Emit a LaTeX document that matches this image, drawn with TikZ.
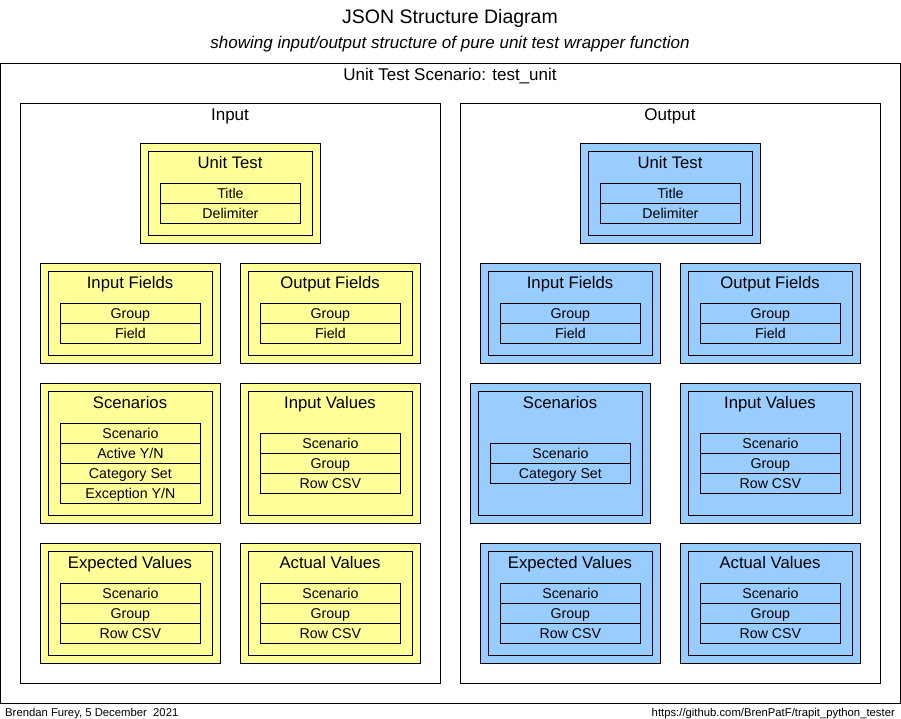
\documentclass[tikz,border=0pt]{standalone}
\usepackage{fontspec}
\setmainfont{Liberation Sans}
\definecolor{yelfill}{HTML}{FFFF99}
\definecolor{blufill}{HTML}{99CCFF}
\begin{document}
\begin{tikzpicture}[x=1pt,y=-1pt,
  frame/.style={draw, line width=1pt, rectangle, inner sep=0pt, anchor=north west},
  yel/.style={frame, fill=yelfill},
  blu/.style={frame, fill=blufill},
  ent/.style={frame, minimum width=180pt},
  inn/.style={frame, minimum width=164pt},
  txt/.style={text height=1.06em, text depth=0pt},
  row/.style={frame, line width=0.8pt, minimum width=140pt, minimum height=20pt, text height=0.93em, text depth=0pt, font=\fontsize{14.2}{15}\selectfont},
  ttl/.style={inner sep=0pt, txt, font=\fontsize{16.7}{18}\selectfont},
  lbl/.style={inner sep=0pt, txt, font=\fontsize{17}{18}\selectfont}]
\useasboundingbox (0,0) rectangle (901,719);
% titles
\node[inner sep=0pt, text height=1.02em, text depth=0pt, font=\fontsize{19.5}{21}\selectfont] (title) at (450,18) {JSON Structure Diagram};
\node[inner sep=0pt, txt, font=\fontsize{17}{18}\selectfont\itshape] (subtitle) at (450,43) {showing input/output structure of pure unit test wrapper function};
% containers
\node[frame, minimum width=900pt, minimum height=640pt] (scen) at (0,63) {};
\node[lbl] (scenl) at (450,75) {Unit Test Scenario: test\_unit};
\node[frame, minimum width=420pt, minimum height=580pt] (inp) at (20,103) {};
\node[lbl] (inpl) at (230,115) {Input};
\node[frame, minimum width=420pt, minimum height=580pt] (outp) at (460,103) {};
\node[lbl] (outpl) at (670,115) {Output};
% ===== INPUT side =====
% Unit Test
\node[yel, ent, minimum height=100pt] (iut) at (140,143) {};
\node[yel, inn, minimum height=84pt] (iuti) at (148,151) {};
\node[ttl] (iutt) at (230,163) {Unit Test};
\node[row] (iut1) at (160,183) {Title};
\node[row] (iut2) at (160,203) {Delimiter};
% Input Fields
\node[yel, ent, minimum height=100pt] (iif) at (40,263) {};
\node[yel, inn, minimum height=84pt] (iifi) at (48,271) {};
\node[ttl] (iift) at (130,283) {Input Fields};
\node[row] (iif1) at (60,303) {Group};
\node[row] (iif2) at (60,323) {Field};
% Output Fields
\node[yel, ent, minimum height=100pt] (iof) at (240,263) {};
\node[yel, inn, minimum height=84pt] (iofi) at (248,271) {};
\node[ttl] (ioft) at (330,283) {Output Fields};
\node[row] (iof1) at (260,303) {Group};
\node[row] (iof2) at (260,323) {Field};
% Scenarios
\node[yel, ent, minimum height=140pt] (isc) at (40,383) {};
\node[yel, inn, minimum height=124pt] (isci) at (48,391) {};
\node[ttl] (isct) at (130,403) {Scenarios};
\node[row] (isc1) at (60,423) {Scenario};
\node[row] (isc2) at (60,443) {Active Y/N};
\node[row] (isc3) at (60,463) {Category Set};
\node[row] (isc4) at (60,483) {Exception Y/N};
% Input Values
\node[yel, ent, minimum height=140pt] (iiv) at (240,383) {};
\node[yel, inn, minimum height=124pt] (iivi) at (248,391) {};
\node[ttl] (iivt) at (330,403) {Input Values};
\node[row] (iiv1) at (260,433) {Scenario};
\node[row] (iiv2) at (260,453) {Group};
\node[row] (iiv3) at (260,473) {Row CSV};
% Expected Values
\node[yel, ent, minimum height=120pt] (iev) at (40,543) {};
\node[yel, inn, minimum height=104pt] (ievi) at (48,551) {};
\node[ttl] (ievt) at (130,563) {Expected Values};
\node[row] (iev1) at (60,583) {Scenario};
\node[row] (iev2) at (60,603) {Group};
\node[row] (iev3) at (60,623) {Row CSV};
% Actual Values
\node[yel, ent, minimum height=120pt] (iav) at (240,543) {};
\node[yel, inn, minimum height=104pt] (iavi) at (248,551) {};
\node[ttl] (iavt) at (330,563) {Actual Values};
\node[row] (iav1) at (260,583) {Scenario};
\node[row] (iav2) at (260,603) {Group};
\node[row] (iav3) at (260,623) {Row CSV};
% ===== OUTPUT side =====
\node[blu, ent, minimum height=100pt] (out) at (580,143) {};
\node[blu, inn, minimum height=84pt] (outi) at (588,151) {};
\node[ttl] (outt) at (670,163) {Unit Test};
\node[row] (out1) at (600,183) {Title};
\node[row] (out2) at (600,203) {Delimiter};
% Input Fields
\node[blu, ent, minimum height=100pt] (oif) at (480,263) {};
\node[blu, inn, minimum height=84pt] (oifi) at (488,271) {};
\node[ttl] (oift) at (570,283) {Input Fields};
\node[row] (oif1) at (500,303) {Group};
\node[row] (oif2) at (500,323) {Field};
% Output Fields
\node[blu, ent, minimum height=100pt] (oof) at (680,263) {};
\node[blu, inn, minimum height=84pt] (oofi) at (688,271) {};
\node[ttl] (ooft) at (770,283) {Output Fields};
\node[row] (oof1) at (700,303) {Group};
\node[row] (oof2) at (700,323) {Field};
% Scenarios
\node[blu, ent, minimum height=140pt] (osc) at (470,383) {};
\node[blu, inn, minimum height=124pt] (osci) at (478,391) {};
\node[ttl] (osct) at (560,403) {Scenarios};
\node[row] (osc1) at (490,443) {Scenario};
\node[row] (osc2) at (490,463) {Category Set};
% Input Values
\node[blu, ent, minimum height=140pt] (oiv) at (680,383) {};
\node[blu, inn, minimum height=124pt] (oivi) at (688,391) {};
\node[ttl] (oivt) at (770,403) {Input Values};
\node[row] (oiv1) at (700,433) {Scenario};
\node[row] (oiv2) at (700,453) {Group};
\node[row] (oiv3) at (700,473) {Row CSV};
% Expected Values
\node[blu, ent, minimum height=120pt] (oev) at (480,543) {};
\node[blu, inn, minimum height=104pt] (oevi) at (488,551) {};
\node[ttl] (oevt) at (570,563) {Expected Values};
\node[row] (oev1) at (500,583) {Scenario};
\node[row] (oev2) at (500,603) {Group};
\node[row] (oev3) at (500,623) {Row CSV};
% Actual Values
\node[blu, ent, minimum height=120pt] (oav) at (680,543) {};
\node[blu, inn, minimum height=104pt] (oavi) at (688,551) {};
\node[ttl] (oavt) at (770,563) {Actual Values};
\node[row] (oav1) at (700,583) {Scenario};
\node[row] (oav2) at (700,603) {Group};
\node[row] (oav3) at (700,623) {Row CSV};
% footer
\node[inner sep=0pt, anchor=west, text height=0.8em, text depth=0pt, font=\fontsize{11.3}{12}\selectfont] (foot1) at (5,712) {Brendan Furey, 5 December \ 2021};
\node[inner sep=0pt, anchor=east, text height=0.8em, text depth=0pt, font=\fontsize{11.3}{12}\selectfont] (foot2) at (895,712) {https://github.com/BrenPatF/trapit\_python\_tester};
\end{tikzpicture}
\end{document}
